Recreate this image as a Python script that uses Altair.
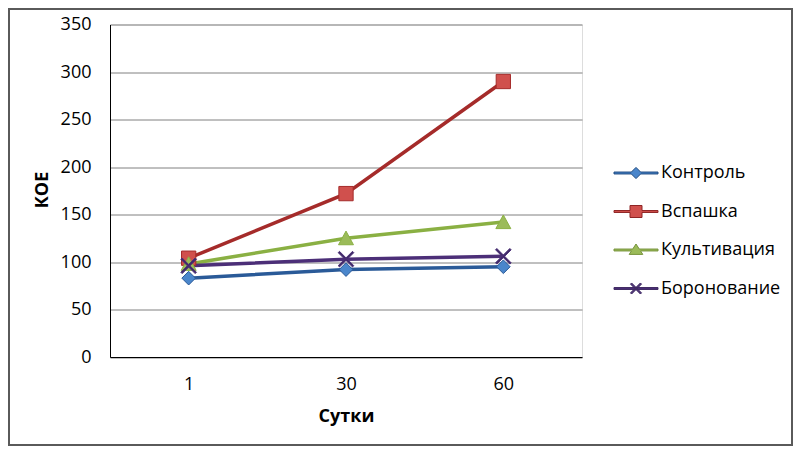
import altair as alt
import pandas as pd

days = ["1", "30", "60"]
series = ["Контроль", "Вспашка", "Культивация", "Боронование"]
kontrol = [83, 92, 95]
vspashka = [104, 172, 290]
kultivaciya = [98, 125, 142]
boronovanie = [96, 103, 106]
y_ticks = [0, 50, 100, 150, 200, 250, 300, 350]

line_colors = ["#2A5A98", "#A52B2A", "#8AB043", "#4C2F78"]
marker_fill = ["#4A86CB", "#D0504D", "#9BBB59", "#3E2A66"]

rows = []
for s, vals in zip(series, [kontrol, vspashka, kultivaciya, boronovanie]):
    for d, v in zip(days, vals):
        rows.append({"day": d, "value": v, "series": s, "ord": series.index(s)})
df = pd.DataFrame(rows)


def f(v):
    return f"{v:.3f}".rstrip("0").rstrip(".")


def xpath(cx, r, o):
    a = [(-r + o, -r - o), (r + o, r - o), (r - o, r + o), (-r - o, -r + o)]
    b = [(-r - o, r - o), (r - o, -r - o), (r + o, -r + o), (-r + o, r + o)]
    out = ""
    for pts in (a, b):
        out += "M" + " L".join(f"{f(cx + x)},{f(y)}" for x, y in pts) + " Z "
    return out.strip()


# plot marker shapes (unit = sqrt(size)/2 px)
plot_paths = [
    "M0,-1.05 L1.05,0 L0,1.05 L-1.05,0 Z",
    "M-1.1,-1.1 H1.1 V1.1 H-1.1 Z",
    "M0,-1.1 L1.15,1 L-1.15,1 Z",
    xpath(0, 1.1, 0.1),
]

# legend symbols: line + marker
L, R, cx, h = -4.5, 1.0, -1.75, 0.12
d = 0.7
leg_diamond = (f"M{f(L)},{f(-h)} L{f(cx-(d-h))},{f(-h)} L{f(cx)},{f(-d)} L{f(cx+(d-h))},{f(-h)} "
               f"L{f(R)},{f(-h)} L{f(R)},{f(h)} L{f(cx+(d-h))},{f(h)} L{f(cx)},{f(d)} "
               f"L{f(cx-(d-h))},{f(h)} L{f(L)},{f(h)} Z")
s = 0.75
leg_square = (f"M{f(L)},{f(-h)} H{f(cx-s)} V{f(-s)} H{f(cx+s)} V{f(-h)} H{f(R)} V{f(h)} "
              f"H{f(cx+s)} V{f(s)} H{f(cx-s)} V{f(h)} H{f(L)} Z")
t1, t2, b = 0.75, 0.55, 0.85
xa = b * (t1 - h) / (t1 + t2)
xb = b * (t1 + h) / (t1 + t2)
leg_tri = (f"M{f(L)},{f(-h)} L{f(cx-xa)},{f(-h)} L{f(cx)},{f(-t1)} L{f(cx+xa)},{f(-h)} "
           f"L{f(R)},{f(-h)} L{f(R)},{f(h)} L{f(cx+xb)},{f(h)} L{f(cx+b)},{f(t2)} "
           f"L{f(cx-b)},{f(t2)} L{f(cx-xb)},{f(h)} L{f(L)},{f(h)} Z")
leg_x = f"M{f(L)},{f(-h)} H{f(R)} V{f(h)} H{f(L)} Z " + xpath(cx, 0.62, 0.07)
leg_paths = [leg_diamond, leg_square, leg_tri, leg_x]
leg_fills = [marker_fill[0], marker_fill[1], marker_fill[2], line_colors[3]]
leg_strokes = ["#1F4A80", "#8E2424", "#77933C", "#3F2A62"]

FONT = "Open Sans"
FS = 18

legend = alt.Legend(
    orient="none", legendX=531, legendY=139.5, title=None,
    labelFont=FONT, labelFontSize=FS, labelColor="#000000",
    symbolSize=256, symbolStrokeWidth=1, symbolOpacity=1,
    rowPadding=20.5, labelOffset=2, padding=0,
)

x_enc = alt.X("day:N", sort=days, scale=alt.Scale(type="point", padding=0.5),
              axis=alt.Axis(labelAngle=0, ticks=False, tickSize=0, grid=False,
                            domainColor="#000000", domainWidth=1,
                            labelFont=FONT, labelFontSize=FS, labelColor="#000000",
                            labelBaseline="middle", labelPadding=27.5,
                            title="Сутки", titleFont=FONT, titleFontSize=FS,
                            titleFontWeight="bold", titleColor="#000000",
                            titleBaseline="middle", titleY=59))
y_enc = alt.Y("value:Q", scale=alt.Scale(domain=[0, 350], nice=False, zero=True),
              axis=alt.Axis(values=y_ticks, ticks=False, tickSize=0, grid=True,
                            gridColor="#808080", gridWidth=1,
                            domainColor="#000000", domainWidth=1,
                            labelFont=FONT, labelFontSize=FS, labelColor="#000000",
                            labelPadding=19,
                            title="КОЕ", titleFont=FONT, titleFontSize=FS,
                            titleFontWeight="bold", titleColor="#000000",
                            titleAngle=270, titleX=-67.5, titleY=165,
                            titleAlign="center", titleBaseline="middle"))

lines = alt.Chart(df).mark_line(strokeWidth=3.5).encode(
    x=x_enc, y=y_enc,
    stroke=alt.Stroke("series:N", scale=alt.Scale(domain=series, range=line_colors), legend=None),
    order=alt.Order("ord:Q"),
)

points = alt.Chart(df).mark_point(filled=True, opacity=1, strokeWidth=1, size=169).encode(
    x=x_enc, y=y_enc,
    shape=alt.Shape("series:N", scale=alt.Scale(domain=series, range=plot_paths), legend=None),
    fill=alt.Fill("series:N", scale=alt.Scale(domain=series, range=marker_fill), legend=None),
    stroke=alt.Stroke("series:N", scale=alt.Scale(domain=series, range=line_colors), legend=None),
    order=alt.Order("ord:Q"),
)

legend_layer = alt.Chart(df).transform_filter("false").mark_point(
    filled=True, opacity=1, strokeWidth=1, size=256
).encode(
    x=x_enc, y=y_enc,
    shape=alt.Shape("series:N", scale=alt.Scale(domain=series, range=leg_paths), legend=legend),
    fill=alt.Fill("series:N", scale=alt.Scale(domain=series, range=leg_fills), legend=legend),
    stroke=alt.Stroke("series:N", scale=alt.Scale(domain=series, range=leg_strokes), legend=legend),
)

border = alt.Chart(pd.DataFrame({"a": [0]})).mark_rect(
    fill=None, stroke="#5A5A5A", strokeWidth=2
).encode(x=alt.value(-101), x2=alt.value(682), y=alt.value(-15.5), y2=alt.value(420.5))

chart = alt.layer(border, lines, points, legend_layer).resolve_scale(
    shape="independent", fill="independent", stroke="independent"
).properties(
    width=472, height=332.5,
    autosize=alt.AutoSizeParams(type="none"),
    padding={"left": 102, "top": 16.5, "right": 211, "bottom": 89},
).configure_view(stroke=None).configure(background="#FFFFFF")

chart.save("out.html", embed_options={"renderer": "svg", "actions": False})
